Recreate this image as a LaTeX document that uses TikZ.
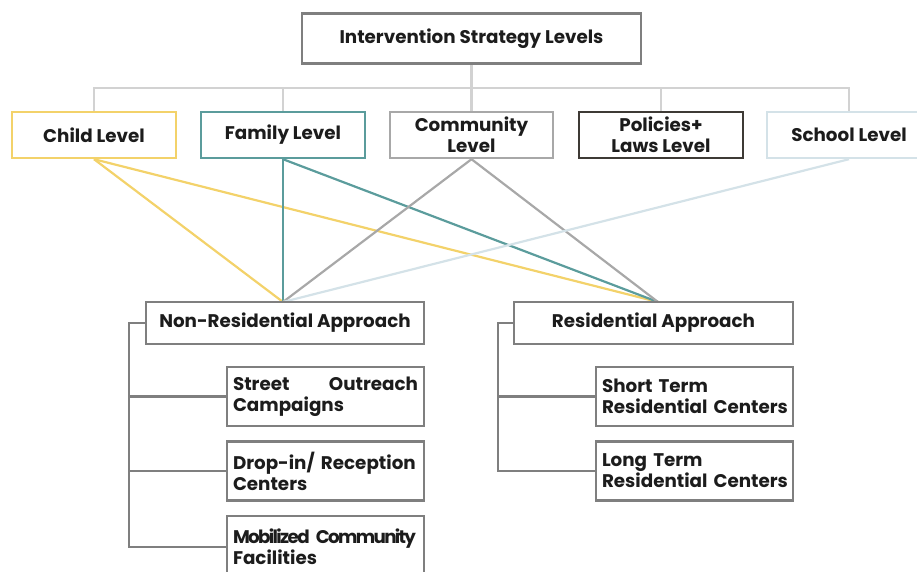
\documentclass[tikz,border=0pt]{standalone}
\usepackage{fontspec}
\setmainfont{Poppins}
\usetikzlibrary{backgrounds}
\definecolor{boxgray}{HTML}{7F7F7F}
\definecolor{busgray}{HTML}{D2D2D2}
\definecolor{txt}{HTML}{1C1C1C}
\definecolor{cyellow}{HTML}{F3D26A}
\definecolor{cteal}{HTML}{5B9C9C}
\definecolor{cgray}{HTML}{A8A8A8}
\definecolor{cdark}{HTML}{3E3A35}
\definecolor{cblue}{HTML}{D4E2E8}
\begin{document}
\begin{tikzpicture}[x=1pt,y=-1pt,
  box/.style={draw=boxgray, line width=2.4pt, fill=white, inner sep=0pt, align=center,
    text=txt, font=\bfseries\fontsize{18.3}{21}\selectfont},
  lvl/.style={box, minimum width=164pt, minimum height=46pt},
  appr/.style={box, minimum width=278pt, minimum height=42pt},
  sub/.style={box, minimum width=197pt, minimum height=59pt, text width=185pt, align=left,
    execute at begin node={\hyphenpenalty=10000\exhyphenpenalty=10000\hbadness=10000\hfuzz=20pt}},
  bus/.style={draw=busgray, line width=2.4pt},
  brk/.style={draw=boxgray, line width=2.4pt},
  link/.style={line width=2.2pt}]
\useasboundingbox (0,0) rectangle (917,572);

\node[box, minimum width=339pt, minimum height=50pt] (top) at (471.5,38.5) {Intervention Strategy Levels};

\node[lvl, draw=cyellow] (child) at (94,135) {Child Level};
\node[lvl, draw=cteal] (family) at (283,135) {Family Level};
\node[lvl, draw=cgray, minimum width=163pt] (comm) at (471.5,135) {Community\\Level};
\node[lvl, draw=cdark] (policy) at (661,135) {Policies+\\Laws Level};
\node[lvl, draw=cblue] (school) at (849,135) {School Level};

\node[appr] (nonres) at (285,323) {Non-Residential Approach};
\node[appr, minimum width=279pt] (res) at (653.5,323) {Residential Approach};

\node[sub] (street) at (325.5,396.5) {Street\hfill Outreach\\Campaigns};
\node[sub] (drop) at (325.5,471) {Drop-in/ Reception\\Centers};
\node[sub, minimum height=62pt] (mob) at (325.5,547) {\mbox{\addfontfeature{LetterSpace=-9}Mobilized Community}\\Facilities};
\node[sub] (short) at (694.5,396.5) {\mbox{Short Term}\\\mbox{Residential Centers}};
\node[sub] (long) at (694.5,471) {\mbox{Long Term}\\\mbox{Residential Centers}};

\coordinate (nrtop) at (283,302);
\coordinate (rtop) at (658,302);
\coordinate (busy) at (471.5,88);
\coordinate (nrx) at (129,323);
\coordinate (rx) at (498,323);

\begin{pgfonlayer}{background}
  \draw[bus] (top.south) -- (busy);
  \draw[bus] (child.north) |- (busy) -| (school.north);
  \draw[bus] (family.north) -- (family.north |- busy);
  \draw[bus] (comm.north) -- (comm.north |- busy);
  \draw[bus] (policy.north) -- (policy.north |- busy);

  \draw[link, cyellow] (child.south) -- (nrtop);
  \draw[link, cyellow] (child.south) -- (rtop);
  \draw[link, cteal] (family.south) -- (nrtop);
  \draw[link, cteal] (family.south) -- (rtop);
  \draw[link, cgray] (comm.south) -- (nrtop);
  \draw[link, cgray] (comm.south) -- (rtop);
  \draw[link, cblue] (school.south) -- (nrtop);

  \draw[brk] (nonres.west) -- (nrx) |- (mob.west);
  \draw[brk] (nrx |- street.west) -- (street.west);
  \draw[brk] (nrx |- drop.west) -- (drop.west);
  \draw[brk] (res.west) -- (rx) |- (long.west);
  \draw[brk] (rx |- short.west) -- (short.west);
\end{pgfonlayer}
\end{tikzpicture}
\end{document}
